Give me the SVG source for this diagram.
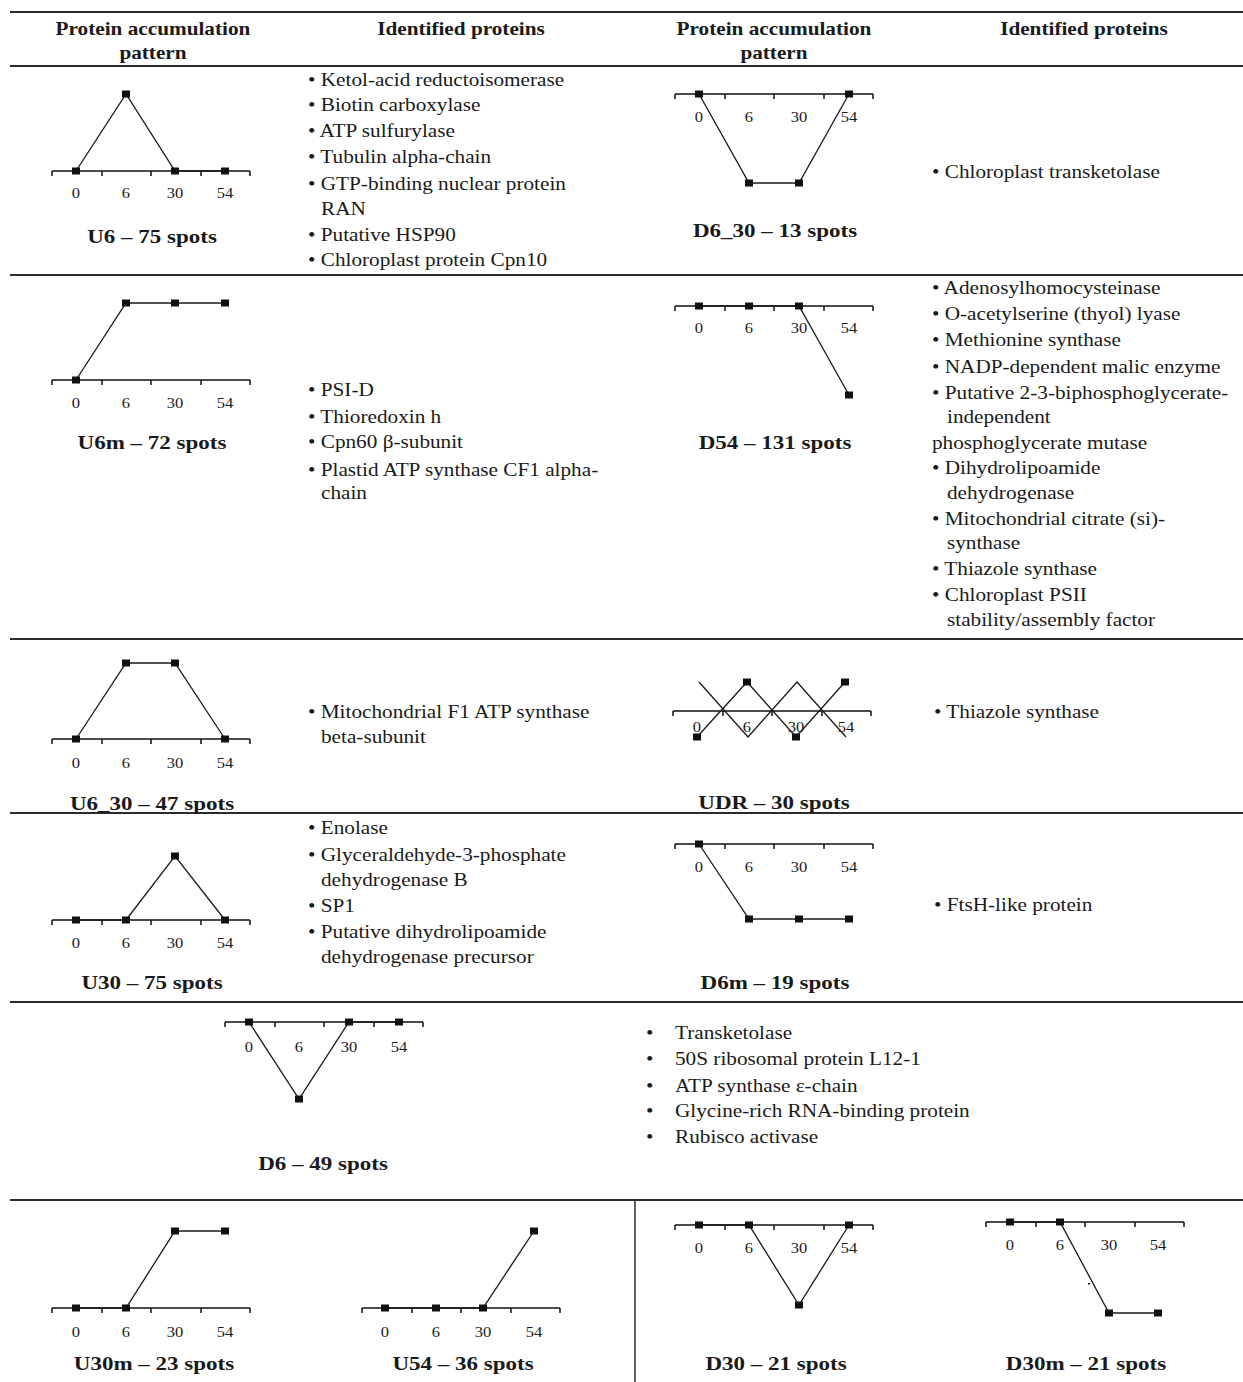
<svg xmlns="http://www.w3.org/2000/svg" xmlns:xlink="http://www.w3.org/1999/xlink" width="1243" height="1382" viewBox="0 0 1243 1382">
<style>
.rule{stroke:#2b2b2b;stroke-width:2;fill:none}
.axl{stroke:#111;stroke-width:1.5;fill:none}
.dl{stroke:#1a1a1a;stroke-width:1.3;fill:none}
.sq{fill:#111}
text{font-family:"Liberation Serif","Times New Roman",serif;fill:#1a1a1a;transform-box:fill-box}
.b{font-size:18px;transform-origin:0 50%;transform:scaleX(1.18)}
.h{font-size:18px;font-weight:bold;text-anchor:middle;transform-origin:50% 50%;transform:scaleX(1.18)}
.lab{font-size:19.5px;font-weight:bold;text-anchor:middle;transform-origin:50% 50%;transform:scaleX(1.18)}
.ax{font-size:14px;text-anchor:middle;transform-origin:50% 50%;transform:scaleX(1.18)}
</style>
<defs>
<g id="axis"><path class="axl" d="M0,0H198M0,0V5M50,0V5M99,0V5M149,0V5M198,0V5"/></g>
<rect id="sq" class="sq" x="-4" y="-3.5" width="8" height="7"/>
</defs>

<g id="rules">
<path class="rule" d="M10,12H1243M10,66H1243M10,275H1243M10,639H1243M10,813H1243M10,1002H1243M10,1200H1243"/>
<path class="rule" d="M635,1200V1382" style="stroke-width:1.5"/>
</g>

<g id="headers">
<text class="h" x="153" y="35">Protein accumulation</text>
<text class="h" x="153" y="59">pattern</text>
<text class="h" x="461" y="35">Identified proteins</text>
<text class="h" x="774" y="35">Protein accumulation</text>
<text class="h" x="774" y="59">pattern</text>
<text class="h" x="1084" y="35">Identified proteins</text>
</g>

<!-- U6 -->
<g id="chart-U6" transform="translate(52,171)">
<use xlink:href="#axis"/>
<polyline class="dl" points="24,0 74,-77 123,0 173,0"/>
<use xlink:href="#sq" x="24" y="0"/><use xlink:href="#sq" x="74" y="-77"/><use xlink:href="#sq" x="123" y="0"/><use xlink:href="#sq" x="173" y="0"/>
<text class="ax" x="24" y="27">0</text><text class="ax" x="74" y="27">6</text><text class="ax" x="123" y="27">30</text><text class="ax" x="173" y="27">54</text>
<text class="lab" x="100" y="72">U6 – 75 spots</text>
</g>
<g id="list-U6">
<text class="b" x="308" y="86">• Ketol-acid reductoisomerase</text>
<text class="b" x="308" y="111">• Biotin carboxylase</text>
<text class="b" x="308" y="137">• ATP sulfurylase</text>
<text class="b" x="308" y="163">• Tubulin alpha-chain</text>
<text class="b" x="308" y="190">• GTP-binding nuclear protein</text>
<text class="b" x="321" y="215">RAN</text>
<text class="b" x="308" y="241">• Putative HSP90</text>
<text class="b" x="308" y="266">• Chloroplast protein Cpn10</text>
</g>

<!-- D6_30 -->
<g id="chart-D6_30" transform="translate(675,94)">
<use xlink:href="#axis"/>
<polyline class="dl" points="24,0 74,89 124,89 174,0"/>
<use xlink:href="#sq" x="24" y="0"/><use xlink:href="#sq" x="74" y="89"/><use xlink:href="#sq" x="124" y="89"/><use xlink:href="#sq" x="174" y="0"/>
<text class="ax" x="24" y="28">0</text><text class="ax" x="74" y="28">6</text><text class="ax" x="124" y="28">30</text><text class="ax" x="174" y="28">54</text>
<text class="lab" x="100" y="143">D6_30 – 13 spots</text>
</g>
<g id="list-D6_30">
<text class="b" x="932" y="178">• Chloroplast transketolase</text>
</g>

<!-- U6m -->
<g id="chart-U6m" transform="translate(52,380)">
<use xlink:href="#axis"/>
<polyline class="dl" points="24,0 74,-77 123,-77 173,-77"/>
<use xlink:href="#sq" x="24" y="0"/><use xlink:href="#sq" x="74" y="-77"/><use xlink:href="#sq" x="123" y="-77"/><use xlink:href="#sq" x="173" y="-77"/>
<text class="ax" x="24" y="28">0</text><text class="ax" x="74" y="28">6</text><text class="ax" x="123" y="28">30</text><text class="ax" x="173" y="28">54</text>
<text class="lab" x="100" y="69">U6m – 72 spots</text>
</g>
<g id="list-U6m">
<text class="b" x="308" y="396">• PSI-D</text>
<text class="b" x="308" y="423">• Thioredoxin h</text>
<text class="b" x="308" y="448">• Cpn60 β-subunit</text>
<text class="b" x="308" y="476">• Plastid ATP synthase CF1 alpha-</text>
<text class="b" x="321" y="499">chain</text>
</g>

<!-- D54 -->
<g id="chart-D54" transform="translate(675,306)">
<use xlink:href="#axis"/>
<polyline class="dl" points="24,0 74,0 124,0 174,89"/>
<use xlink:href="#sq" x="24" y="0"/><use xlink:href="#sq" x="74" y="0"/><use xlink:href="#sq" x="124" y="0"/><use xlink:href="#sq" x="174" y="89"/>
<text class="ax" x="24" y="27">0</text><text class="ax" x="74" y="27">6</text><text class="ax" x="124" y="27">30</text><text class="ax" x="174" y="27">54</text>
<text class="lab" x="100" y="143">D54 – 131 spots</text>
</g>
<g id="list-D54">
<text class="b" x="932" y="294">• Adenosylhomocysteinase</text>
<text class="b" x="932" y="320">• O-acetylserine (thyol) lyase</text>
<text class="b" x="932" y="346">• Methionine synthase</text>
<text class="b" x="932" y="373">• NADP-dependent malic enzyme</text>
<text class="b" x="932" y="399">• Putative 2-3-biphosphoglycerate-</text>
<text class="b" x="947" y="423">independent</text>
<text class="b" x="932" y="449">phosphoglycerate mutase</text>
<text class="b" x="932" y="474">• Dihydrolipoamide</text>
<text class="b" x="947" y="499">dehydrogenase</text>
<text class="b" x="932" y="525">• Mitochondrial citrate (si)-</text>
<text class="b" x="947" y="549">synthase</text>
<text class="b" x="932" y="575">• Thiazole synthase</text>
<text class="b" x="932" y="601">• Chloroplast PSII</text>
<text class="b" x="947" y="626">stability/assembly factor</text>
</g>

<!-- U6_30 -->
<g id="chart-U6_30" transform="translate(52,739)">
<use xlink:href="#axis"/>
<polyline class="dl" points="24,0 74,-76 123,-76 173,0"/>
<use xlink:href="#sq" x="24" y="0"/><use xlink:href="#sq" x="74" y="-76"/><use xlink:href="#sq" x="123" y="-76"/><use xlink:href="#sq" x="173" y="0"/>
<text class="ax" x="24" y="29">0</text><text class="ax" x="74" y="29">6</text><text class="ax" x="123" y="29">30</text><text class="ax" x="173" y="29">54</text>
<text class="lab" x="100" y="71">U6_30 – 47 spots</text>
</g>
<g id="list-U6_30">
<text class="b" x="308" y="718">• Mitochondrial F1 ATP synthase</text>
<text class="b" x="321" y="743">beta-subunit</text>
</g>

<!-- UDR -->
<g id="chart-UDR" transform="translate(673,711)">
<use xlink:href="#axis"/>
<polyline class="dl" points="24,26 74,-29 123,26 172,-29"/>
<polyline class="dl" points="26,-29 75,26 124,-29 173,26"/>
<use xlink:href="#sq" x="24" y="26"/><use xlink:href="#sq" x="74" y="-29"/><use xlink:href="#sq" x="123" y="26"/><use xlink:href="#sq" x="172" y="-29"/>
<text class="ax" x="24" y="21">0</text><text class="ax" x="74" y="21">6</text><text class="ax" x="123" y="21">30</text><text class="ax" x="173" y="21">54</text>
<text class="lab" x="101" y="98">UDR – 30 spots</text>
</g>
<g id="list-UDR">
<text class="b" x="934" y="718">• Thiazole synthase</text>
</g>

<!-- U30 -->
<g id="chart-U30" transform="translate(52,920)">
<use xlink:href="#axis"/>
<polyline class="dl" points="24,0 74,0 123,-64 173,0"/>
<use xlink:href="#sq" x="24" y="0"/><use xlink:href="#sq" x="74" y="0"/><use xlink:href="#sq" x="123" y="-64"/><use xlink:href="#sq" x="173" y="0"/>
<text class="ax" x="24" y="28">0</text><text class="ax" x="74" y="28">6</text><text class="ax" x="123" y="28">30</text><text class="ax" x="173" y="28">54</text>
<text class="lab" x="100" y="69">U30 – 75 spots</text>
</g>
<g id="list-U30">
<text class="b" x="308" y="834">• Enolase</text>
<text class="b" x="308" y="861">• Glyceraldehyde-3-phosphate</text>
<text class="b" x="321" y="886">dehydrogenase B</text>
<text class="b" x="308" y="912">• SP1</text>
<text class="b" x="308" y="938">• Putative dihydrolipoamide</text>
<text class="b" x="321" y="963">dehydrogenase precursor</text>
</g>

<!-- D6m -->
<g id="chart-D6m" transform="translate(675,844)">
<use xlink:href="#axis"/>
<polyline class="dl" points="24,0 74,75 124,75 174,75"/>
<use xlink:href="#sq" x="24" y="0"/><use xlink:href="#sq" x="74" y="75"/><use xlink:href="#sq" x="124" y="75"/><use xlink:href="#sq" x="174" y="75"/>
<text class="ax" x="24" y="28">0</text><text class="ax" x="74" y="28">6</text><text class="ax" x="124" y="28">30</text><text class="ax" x="174" y="28">54</text>
<text class="lab" x="100" y="145">D6m – 19 spots</text>
</g>
<g id="list-D6m">
<text class="b" x="934" y="911">• FtsH-like protein</text>
</g>

<!-- D6 -->
<g id="chart-D6" transform="translate(225,1022)">
<use xlink:href="#axis"/>
<polyline class="dl" points="24,0 74,77 124,0 174,0"/>
<use xlink:href="#sq" x="24" y="0"/><use xlink:href="#sq" x="74" y="77"/><use xlink:href="#sq" x="124" y="0"/><use xlink:href="#sq" x="174" y="0"/>
<text class="ax" x="24" y="30">0</text><text class="ax" x="74" y="30">6</text><text class="ax" x="124" y="30">30</text><text class="ax" x="174" y="30">54</text>
<text class="lab" x="98" y="148">D6 – 49 spots</text>
</g>
<g id="list-D6">
<text class="b" x="646" y="1039">•</text><text class="b" x="675" y="1039">Transketolase</text>
<text class="b" x="646" y="1065">•</text><text class="b" x="675" y="1065">50S ribosomal protein L12-1</text>
<text class="b" x="646" y="1092">•</text><text class="b" x="675" y="1092">ATP synthase ε-chain</text>
<text class="b" x="646" y="1117">•</text><text class="b" x="675" y="1117">Glycine-rich RNA-binding protein</text>
<text class="b" x="646" y="1143">•</text><text class="b" x="675" y="1143">Rubisco activase</text>
</g>

<!-- U30m -->
<g id="chart-U30m" transform="translate(52,1308)">
<use xlink:href="#axis"/>
<polyline class="dl" points="24,0 74,0 123,-77 173,-77"/>
<use xlink:href="#sq" x="24" y="0"/><use xlink:href="#sq" x="74" y="0"/><use xlink:href="#sq" x="123" y="-77"/><use xlink:href="#sq" x="173" y="-77"/>
<text class="ax" x="24" y="29">0</text><text class="ax" x="74" y="29">6</text><text class="ax" x="123" y="29">30</text><text class="ax" x="173" y="29">54</text>
<text class="lab" x="102" y="62">U30m – 23 spots</text>
</g>

<!-- U54 -->
<g id="chart-U54" transform="translate(362,1308)">
<use xlink:href="#axis"/>
<polyline class="dl" points="23,0 74,0 121,0 172,-77"/>
<use xlink:href="#sq" x="23" y="0"/><use xlink:href="#sq" x="74" y="0"/><use xlink:href="#sq" x="121" y="0"/><use xlink:href="#sq" x="172" y="-77"/>
<text class="ax" x="23" y="29">0</text><text class="ax" x="74" y="29">6</text><text class="ax" x="121" y="29">30</text><text class="ax" x="172" y="29">54</text>
<text class="lab" x="101" y="62">U54 – 36 spots</text>
</g>

<!-- D30 -->
<g id="chart-D30" transform="translate(675,1225)">
<use xlink:href="#axis"/>
<polyline class="dl" points="24,0 74,0 124,80 174,0"/>
<use xlink:href="#sq" x="24" y="0"/><use xlink:href="#sq" x="74" y="0"/><use xlink:href="#sq" x="124" y="80"/><use xlink:href="#sq" x="174" y="0"/>
<text class="ax" x="24" y="28">0</text><text class="ax" x="74" y="28">6</text><text class="ax" x="124" y="28">30</text><text class="ax" x="174" y="28">54</text>
<text class="lab" x="101" y="145">D30 – 21 spots</text>
</g>

<!-- D30m -->
<g id="chart-D30m" transform="translate(986,1222)">
<use xlink:href="#axis"/>
<polyline class="dl" points="24,0 74,0 123,91 172,91"/>
<use xlink:href="#sq" x="24" y="0"/><use xlink:href="#sq" x="74" y="0"/><use xlink:href="#sq" x="123" y="91"/><use xlink:href="#sq" x="172" y="91"/>
<rect class="sq" x="102" y="61" width="2" height="1.5"/>
<text class="ax" x="24" y="28">0</text><text class="ax" x="74" y="28">6</text><text class="ax" x="123" y="28">30</text><text class="ax" x="172" y="28">54</text>
<text class="lab" x="100" y="148">D30m – 21 spots</text>
</g>
</svg>
